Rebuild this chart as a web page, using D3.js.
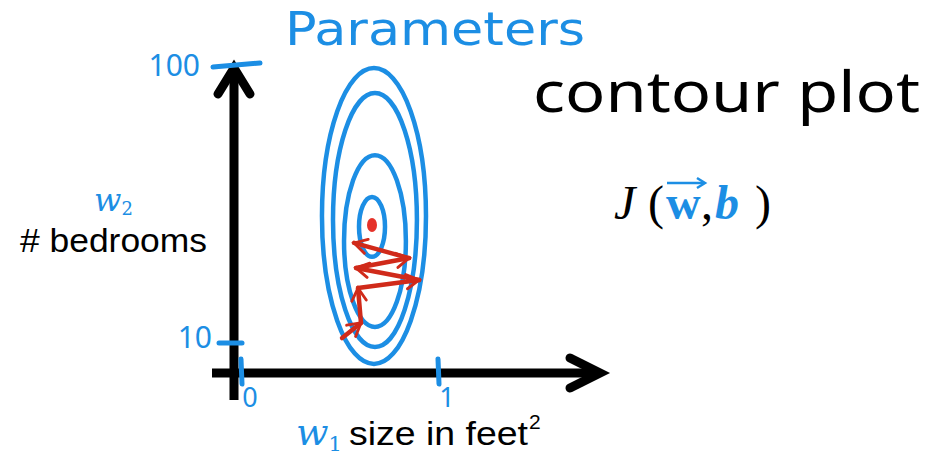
<!DOCTYPE html>
<html>
<head>
<meta charset="utf-8">
<script src="https://cdn.jsdelivr.net/npm/d3@7"></script>
<style>
  html, body { margin: 0; padding: 0; background: #fff; }
  svg { display: block; }
</style>
</head>
<body>
<svg id="chart" width="942" height="476"></svg>
<script>
// ---------- data ----------
const xTickValues = [0, 1];
const xTickLabels = ["0", "1"];
const yTickValues = [10, 100];
const yTickLabels = ["10", "100"];

// contour ellipses (data units): centre and half-widths
const contourCx = [0.675, 0.680, 0.680, 0.665];
const contourCy = [51.1, 49.8, 43.0, 47.6];
const contourRx = [0.264, 0.213, 0.157, 0.066];
const contourRy = [47.9, 41.1, 27.8, 9.7];

// minimum point
const minimumW1 = 0.665;
const minimumW2 = 48.2;

// gradient-descent zigzag path
const pathW1 = [0.513, 0.609, 0.594, 0.904, 0.584, 0.853, 0.574];
const pathW2 = [11.6, 16.5, 27.8, 30.4, 34.3, 37.5, 42.4];

// ---------- drawing ----------
const BLUE = "#1c8ee4";
const RED = "#d02a1a";
const svg = d3.select("#chart");

const x = d3.scaleLinear().domain([0, 1]).range([241, 438]);
const y = d3.scaleLinear().domain([10, 100]).range([343, 65]);

// title
svg.append("text")
  .attr("x", 285).attr("y", 45)
  .attr("font-family", "DejaVu Sans").attr("font-size", 46)
  .attr("textLength", 300).attr("lengthAdjust", "spacingAndGlyphs")
  .attr("fill", BLUE).text("Parameters");

// contour ellipses
const g = svg.append("g");
g.selectAll("ellipse.contour")
  .data(contourCx.map((c, i) => ({cx: c, cy: contourCy[i], rx: contourRx[i], ry: contourRy[i]})))
  .join("ellipse")
  .attr("class", "contour")
  .attr("cx", d => x(d.cx))
  .attr("cy", d => y(d.cy))
  .attr("rx", d => x(d.rx) - x(0))
  .attr("ry", d => y(0) - y(d.ry))
  .attr("fill", "none").attr("stroke", BLUE).attr("stroke-width", 4.5);

// axes lines
const axisY0 = 373;   // pixel row of horizontal axis
const axisX0 = 234;   // pixel column of vertical axis
svg.append("line").attr("x1", 212).attr("x2", 598).attr("y1", axisY0).attr("y2", axisY0)
  .attr("stroke", "#000").attr("stroke-width", 9);
svg.append("path").attr("d", `M570,358 L600,${axisY0} L570,388`)
  .attr("fill", "none").attr("stroke", "#000").attr("stroke-width", 9)
  .attr("stroke-linecap", "round").attr("stroke-linejoin", "miter");
svg.append("line").attr("x1", axisX0).attr("x2", axisX0).attr("y1", 70).attr("y2", 400)
  .attr("stroke", "#000").attr("stroke-width", 9);
svg.append("path").attr("d", `M218,94 L${axisX0},68 L250,94`)
  .attr("fill", "none").attr("stroke", "#000").attr("stroke-width", 9)
  .attr("stroke-linecap", "round").attr("stroke-linejoin", "miter");

// x ticks
xTickValues.forEach((v, i) => {
  svg.append("line").attr("x1", x(v)).attr("x2", x(v) + 1).attr("y1", 359).attr("y2", 384)
    .attr("stroke", BLUE).attr("stroke-width", 5).attr("stroke-linecap", "round");
  svg.append("text").attr("x", x(v) + 9).attr("y", 407)
    .attr("text-anchor", "middle")
    .attr("font-family", "Noto Sans").attr("font-size", 27)
    .attr("fill", BLUE).text(xTickLabels[i]);
});
// y ticks
yTickValues.forEach((v, i) => {
  const big = v === 100;
  svg.append("line")
    .attr("x1", big ? 213 : 219).attr("x2", big ? 260 : 242)
    .attr("y1", y(v) + (big ? 2 : 0)).attr("y2", y(v) - (big ? 2 : 0))
    .attr("stroke", BLUE).attr("stroke-width", 5).attr("stroke-linecap", "round");
  svg.append("text").attr("x", big ? 200 : 212).attr("y", y(v) + (big ? 11 : 5))
    .attr("text-anchor", "end")
    .attr("font-family", "Noto Sans").attr("font-size", 30)
    .attr("fill", BLUE).text(yTickLabels[i]);
});

// minimum point
svg.append("ellipse").attr("cx", x(minimumW1)).attr("cy", y(minimumW2))
  .attr("rx", 5).attr("ry", 7).attr("fill", "#e5322a");

// gradient descent arrows
const defs = svg.append("defs");
defs.append("marker").attr("id", "chev")
  .attr("viewBox", "0 0 10 10").attr("refX", 8).attr("refY", 5)
  .attr("markerWidth", 4).attr("markerHeight", 4)
  .attr("orient", "auto").attr("markerUnits", "strokeWidth")
  .append("path").attr("d", "M1,1 L8,5 L1,9")
  .attr("fill", "none").attr("stroke", RED).attr("stroke-width", 1.6)
  .attr("stroke-linecap", "round");
const segs = d3.range(pathW1.length - 1).map(i => ({
  x1: pathW1[i], y1: pathW2[i], x2: pathW1[i + 1], y2: pathW2[i + 1]
}));
svg.append("g").selectAll("line")
  .data(segs).join("line")
  .attr("x1", d => x(d.x1)).attr("y1", d => y(d.y1))
  .attr("x2", d => x(d.x2)).attr("y2", d => y(d.y2))
  .attr("stroke", RED).attr("stroke-width", 4.5).attr("stroke-linecap", "round")
  .attr("marker-end", "url(#chev)");

// y axis label
const yl = svg.append("text").attr("x", 94).attr("y", 211)
  .attr("font-family", "DejaVu Serif").attr("font-style", "italic")
  .attr("font-size", 32).attr("fill", BLUE);
yl.append("tspan").text("w");
yl.append("tspan").attr("font-size", 18).attr("font-style", "normal").attr("dy", 4).text("2");
svg.append("text").attr("x", 20).attr("y", 252)
  .attr("font-family", "Liberation Sans").attr("font-size", 34)
  .attr("textLength", 187).attr("lengthAdjust", "spacingAndGlyphs")
  .attr("fill", "#000").text("# bedrooms");

// x axis label
const xl = svg.append("text").attr("x", 296).attr("y", 445)
  .attr("font-family", "DejaVu Serif").attr("font-style", "italic")
  .attr("font-size", 38).attr("fill", BLUE);
xl.append("tspan").text("w");
xl.append("tspan").attr("font-size", 21).attr("font-style", "normal").attr("dy", 6).text("1");
svg.append("text").attr("x", 349).attr("y", 445)
  .attr("font-family", "Liberation Sans").attr("font-size", 34)
  .attr("textLength", 179).attr("lengthAdjust", "spacingAndGlyphs")
  .attr("fill", "#000").text("size in feet");
svg.append("text").attr("x", 529).attr("y", 429)
  .attr("font-family", "Liberation Sans").attr("font-size", 21)
  .attr("fill", "#000").text("2");

// right side annotations
svg.append("text").attr("x", 533).attr("y", 112)
  .attr("font-family", "Noto Sans").attr("font-weight", 400).attr("font-size", 57)
  .attr("textLength", 387).attr("lengthAdjust", "spacingAndGlyphs")
  .attr("fill", "#000").text("contour plot");

const jt = svg.append("g").attr("font-family", "Liberation Serif").attr("font-size", 48);
jt.append("text").attr("x", 614).attr("y", 219).attr("font-style", "italic").attr("fill", "#000").text("J");
jt.append("text").attr("x", 648).attr("y", 219).attr("fill", "#000").text("(");
jt.append("text").attr("x", 666).attr("y", 219).attr("font-weight", "bold").attr("fill", BLUE).text("w");
jt.append("text").attr("x", 701).attr("y", 219).attr("fill", "#000").text(",");
jt.append("text").attr("x", 715).attr("y", 219).attr("font-weight", "bold").attr("font-style", "italic").attr("fill", BLUE).text("b");
jt.append("text").attr("x", 755).attr("y", 219).attr("fill", "#000").text(")");
jt.append("line").attr("x1", 667).attr("x2", 704).attr("y1", 183).attr("y2", 183)
  .attr("stroke", BLUE).attr("stroke-width", 2.5);
jt.append("path").attr("d", "M697,178 L705,183 L697,188")
  .attr("fill", "none").attr("stroke", BLUE).attr("stroke-width", 2.5);
</script>
</body>
</html>
